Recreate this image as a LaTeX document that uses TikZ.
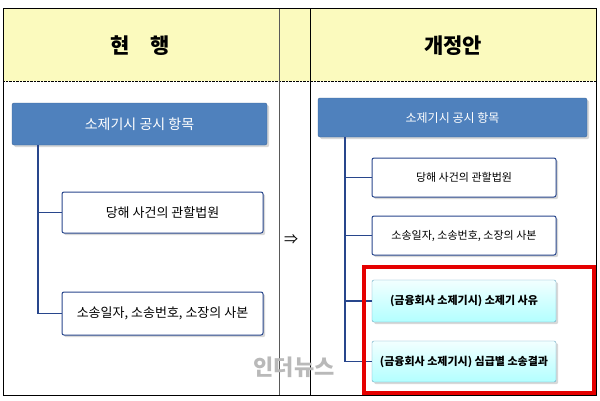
\documentclass[tikz,border=0pt]{standalone}
\usepackage{fontspec}
\newfontfamily\cjk{Noto Sans CJK KR}
\usetikzlibrary{shadows}
\definecolor{hdr}{RGB}{251,250,190}
\definecolor{blu}{RGB}{79,129,189}
\definecolor{bord}{RGB}{40,70,140}
\tikzset{
 every node/.style={font=\cjk},
 topbox/.style={draw=blu!80!black,fill=blu,rounded corners=2pt,text=white,drop shadow={opacity=0.3}},
 wbox/.style={draw=bord,fill=white,rounded corners=2pt,line width=1pt,drop shadow={opacity=0.3}},
 cbox/.style={draw=cyan!50!gray,top color=cyan!5,bottom color=cyan!30,rounded corners=2pt,font=\cjk\bfseries\fontsize{11}{12}\selectfont,drop shadow={opacity=0.3}},
 tree/.style={draw=bord,line width=1.2pt}
}
\begin{document}
\begin{tikzpicture}[x=1pt,y=-1pt]
\useasboundingbox (0,0) rectangle (600,400);
\fill[white] (0,0) rectangle (600,400);
\fill[hdr] (3,8) rectangle (596,81);
\draw[densely dotted] (3,81) -- (596,81);
\draw[gray!70!black,line width=1pt] (279,8) -- (279,395);
\draw[line width=1pt] (310,8) -- (310,395);
\draw[line width=1pt] (3,8) rectangle (596,395);
\node[font=\cjk\bfseries\fontsize{21}{22}\selectfont] (h1) at (140,46) {현\quad 행};
\node[font=\cjk\bfseries\fontsize{21}{22}\selectfont] (h2) at (453,46) {개정안};
\node[font=\cjk\fontsize{14}{16}\selectfont] (arr) at (291,240) {⇒};
% left
\node[topbox,font=\cjk\fontsize{14}{16}\selectfont,minimum width=255,minimum height=42] (L0) at (139.5,124) {소제기시 공시 항목};
\node[wbox,font=\cjk\fontsize{13}{14}\selectfont,minimum width=201,minimum height=41] (L1) at (162.5,212.5) {당해 사건의 관할법원};
\node[wbox,font=\cjk\fontsize{13}{14}\selectfont,minimum width=201,minimum height=43] (L2) at (162.5,313.5) {소송일자, 소송번호, 소장의 사본};
\coordinate (LT) at (38,145);
\draw[tree] (LT) |- (L2.west);
\draw[tree] (LT|-L1.west) -- (L1.west);
% right
\node[topbox,font=\cjk\fontsize{12}{14}\selectfont,minimum width=269,minimum height=39] (R0) at (452.5,117.5) {소제기시 공시 항목};
\node[wbox,font=\cjk\fontsize{11}{12}\selectfont,minimum width=184,minimum height=39] (R1) at (464,177.5) {당해 사건의 관할법원};
\node[wbox,font=\cjk\fontsize{11}{12}\selectfont,minimum width=184,minimum height=39] (R2) at (464,235.5) {소송일자, 소송번호, 소장의 사본};
\node[cbox,minimum width=184,minimum height=42] (R3) at (464,301) {(금융회사 소제기시) 소제기 사유};
\node[cbox,minimum width=184,minimum height=41] (R4) at (464,361.5) {(금융회사 소제기시) 심급별 소송결과};
\coordinate (RT) at (345,137);
\draw[tree] (RT) |- (R4.west);
\foreach \n in {R1,R2,R3} \draw[tree] (RT|-\n.west) -- (\n.west);
\draw[red!90!black,line width=3.5pt] (364,267) rectangle (594,393);
\node[text=gray!55,font=\cjk\bfseries\fontsize{22}{24}\selectfont,anchor=west] (wm) at (250,367) {인더뉴스};
\end{tikzpicture}
\end{document}
